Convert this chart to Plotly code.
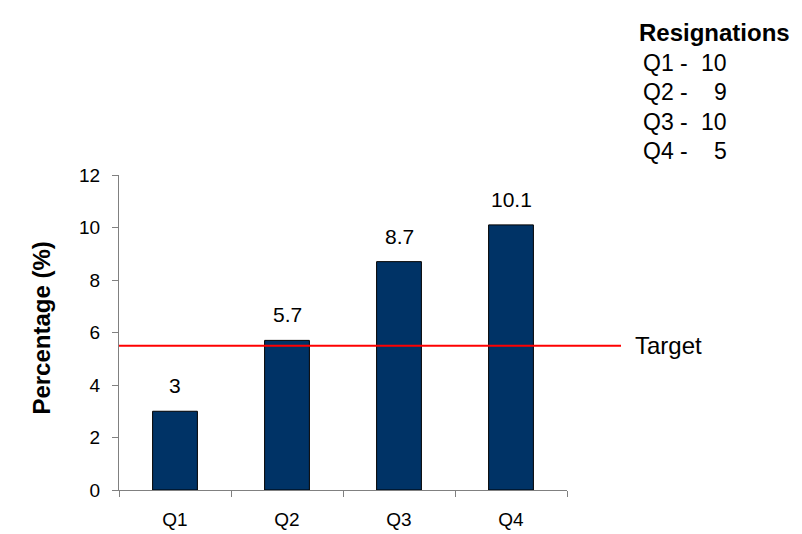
import plotly.graph_objects as go

quarters = ["Q1", "Q2", "Q3", "Q4"]
percentages = [3, 5.7, 8.7, 10.1]
target_value = 5.5
resignations = [10, 9, 10, 5]
y_ticks = [0, 2, 4, 6, 8, 10, 12]

W, H = 802, 534
L, R, T, B = 111, 243, 167, 43
pw, ph = W - L - R, H - T - B

def px_x(x):
    return (x - L) / pw

def px_y(y):
    return (H - B - y) / ph

FONT = "Liberation Sans, Arial, sans-serif"

fig = go.Figure()
fig.add_trace(go.Bar(
    x=quarters, y=percentages, width=0.4,
    marker=dict(color="#003366", line=dict(color="black", width=1)),
    hoverinfo="skip",
))

annotations = []
for q, v in zip(quarters, percentages):
    annotations.append(dict(x=q, y=v, xref="x", yref="y", text=f"{v:g}",
                            showarrow=False, yanchor="bottom", yshift=12,
                            font=dict(size=21, color="black", family=FONT)))

# Target line and label
fig.add_shape(type="line", xref="paper", yref="y", x0=0, x1=px_x(613),
              y0=target_value, y1=target_value, line=dict(color="red", width=2))
annotations.append(dict(x=px_x(625), y=target_value, xref="paper", yref="y",
                        text="Target", showarrow=False, xanchor="left", yanchor="middle",
                        font=dict(size=24, color="black", family=FONT)))

# Resignations box
annotations.append(dict(x=px_x(629), y=px_y(20), xref="paper", yref="paper",
                        text="<b>Resignations</b>", showarrow=False, xanchor="left",
                        yanchor="middle", font=dict(size=24, color="black", family=FONT)))
for i, (q, n) in enumerate(zip(quarters, resignations)):
    yy = px_y(52 + 30 * i)
    annotations.append(dict(x=px_x(633), y=yy, xref="paper", yref="paper",
                            text=f"{q} -", showarrow=False, xanchor="left", yanchor="middle",
                            font=dict(size=23, color="black", family=FONT)))
    annotations.append(dict(x=px_x(721), y=yy, xref="paper", yref="paper",
                            text=str(n), showarrow=False, xanchor="right", yanchor="middle",
                            font=dict(size=23, color="black", family=FONT)))

# Y axis title
annotations.append(dict(x=px_x(34), y=px_y(325), xref="paper", yref="paper",
                        text="<b>Percentage (%)</b>", showarrow=False, textangle=-90,
                        xanchor="center", yanchor="middle",
                        font=dict(size=24, color="black", family=FONT)))

fig.update_layout(
    width=W, height=H,
    margin=dict(l=L, r=R, t=T, b=B, pad=0),
    paper_bgcolor="white", plot_bgcolor="white",
    showlegend=False,
    annotations=annotations,
    font=dict(family=FONT, color="black"),
    xaxis=dict(range=[-0.5, 3.5], showline=True, linecolor="#808080", linewidth=1,
               ticks="outside", tickson="boundaries", ticklen=6, tickcolor="#808080",
               showgrid=False, zeroline=False, tickfont=dict(size=19, color="black"),
               ticklabelstandoff=12),
    yaxis=dict(range=[0, 12], tickvals=y_ticks, showline=True, linecolor="#808080",
               linewidth=1, ticks="outside", ticklen=6, tickcolor="#808080",
               showgrid=False, zeroline=False, tickfont=dict(size=19, color="black"),
               ticklabelstandoff=8),
)

fig.write_html("out.html")
